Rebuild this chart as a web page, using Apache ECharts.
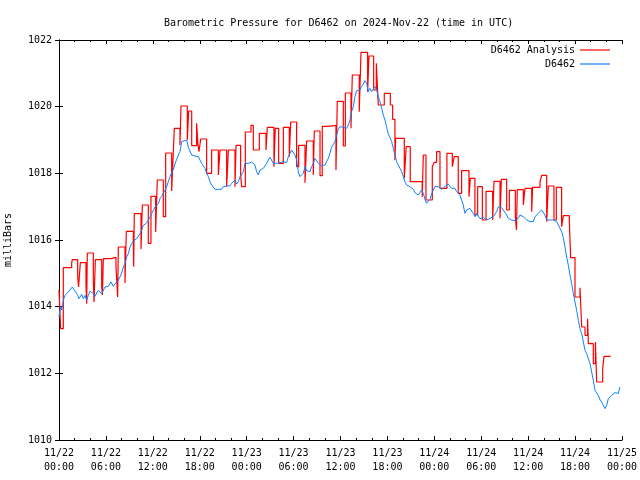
<!DOCTYPE html>
<html>
<head>
<meta charset="utf-8">
<script src="https://cdn.jsdelivr.net/npm/echarts@6/dist/echarts.min.js"></script>
<style>html,body{margin:0;padding:0;background:#fff}#c{width:640px;height:480px}</style>
</head>
<body>
<div id="c"></div>
<script>
// x values are hours after 2024-11-22 00:00 UTC
var titleText = "Barometric Pressure for D6462 on 2024-Nov-22 (time in UTC)";
var yAxisName = "milliBars";
var seriesNames = ["D6462 Analysis", "D6462"];
var xTickLabels = ["11/22\n00:00","11/22\n06:00","11/22\n12:00","11/22\n18:00",
                   "11/23\n00:00","11/23\n06:00","11/23\n12:00","11/23\n18:00",
                   "11/24\n00:00","11/24\n06:00","11/24\n12:00","11/24\n18:00","11/25\n00:00"];

// Analysis (stepped) : [hour, mb]
var analysisPts = [
[0,1014.51],[0.21,1013.34],[0.55,1015.17],[1.62,1015.31],[1.70,1015.41],[2.39,1014.9],[2.5,1014.59],[2.6,1014.9],
[2.73,1015.32],[3.45,1014.69],[3.54,1014.09],[3.62,1015.61],[4.39,1014.79],[4.48,1014.14],[4.65,1015.41],
[5.46,1014.6],[5.55,1014.35],[5.67,1015.44],[6.65,1015.48],[7.29,1015.2],[7.5,1014.29],[7.59,1015.79],
[8.44,1014.71],[8.61,1016.26],[9.51,1015.8],[9.55,1015.2],[9.63,1016.79],[10.49,1015.73],[10.66,1017.05],
[11.42,1015.9],[11.76,1017.31],[12.36,1016.24],[12.57,1017.8],[13.34,1016.7],[13.64,1018.61],[14.41,1017.47],
[14.5,1018.0],[14.75,1019.35],[15.47,1018.85],[15.6,1020.02],[16.41,1019.0],[16.58,1019.87],[16.97,1018.83],
[17.6,1019.5],[17.75,1018.9],[17.9,1018.65],[18.12,1019.03],[18.88,1018.0],[19.52,1018.7],[20.38,1017.95],
[20.59,1018.7],[21.44,1017.6],[21.66,1018.7],[22.51,1017.6],[22.64,1018.84],[23.23,1017.95],[23.36,1017.6],
[23.83,1019.24],[24.55,1019.44],[24.85,1018.7],[25.62,1019.2],[26.47,1018.7],[26.64,1019.38],[27.49,1018.2],
[27.66,1019.35],[28.09,1018.3],[28.69,1019.38],[29.45,1018.5],[29.63,1019.54],[30.39,1018.2],[30.65,1018.84],
[31.46,1017.72],[31.67,1018.97],[32.52,1017.95],[32.65,1019.27],[33.38,1017.93],[33.67,1019.41],[34.44,1019.44],
[35.42,1018.1],[35.59,1020.16],[36.36,1018.82],[36.62,1020.41],[37.34,1019.35],[37.51,1020.95],[38.4,1019.85],
[38.62,1021.63],[39.47,1020.45],[39.64,1021.52],[40.24,1020.5],[40.58,1021.3],[40.83,1020.05],[41.6,1020.4],
[42.37,1020.05],[42.67,1019.62],[42.96,1018.4],[43.05,1019.05],[44.16,1017.85],[44.4,1018.8],[44.92,1017.75],
[46.45,1017.3],[46.59,1018.55],[46.93,1017.2],[47.74,1018.2],[47.99,1018.33],[48.29,1018.65],[48.72,1017.55],
[49.61,1018.6],[50.3,1018.2],[50.55,1018.5],[51.06,1017.4],[51.49,1018.08],[52.43,1017.3],[52.6,1017.85],
[53.19,1016.75],[53.54,1017.6],[54.14,1016.6],[54.61,1017.46],[55.46,1016.6],[55.63,1017.76],[56.4,1016.65],
[56.57,1017.82],[57.25,1016.9],[57.59,1017.49],[58.36,1016.7],[58.5,1016.3],[58.61,1017.51],[59.38,1017.05],
[59.59,1017.55],[60.45,1016.85],[60.57,1017.58],[61.51,1017.74],[61.73,1017.94],[62.37,1016.55],[62.58,1017.62],
[63.3,1016.6],[63.6,1017.58],[64.28,1016.4],[64.5,1016.73],[65.26,1016.6],[65.43,1015.47],[65.99,1014.29],
[66.63,1014.57],[66.84,1013.39],[67.27,1013.14],[67.6,1013.64],[67.7,1012.89],[68.33,1012.29],[68.6,1012.94],
[68.76,1011.74],[69.53,1012.14],[69.7,1012.51],[70.55,1012.51]
];

// Observations : [hour, mb]
var obsPts = [
[0,1013.69],[0.13,1013.9],[0.26,1014.0],[0.34,1013.9],[0.55,1014.19],[0.77,1014.34],[0.98,1014.39],[1.19,1014.44],
[1.41,1014.48],[1.71,1014.59],[1.96,1014.59],[2.13,1014.44],[2.39,1014.34],[2.56,1014.24],[2.9,1014.37],[3.11,1014.24],
[3.32,1014.34],[3.54,1014.19],[3.75,1014.34],[3.96,1014.47],[4.39,1014.39],[4.6,1014.31],[4.82,1014.41],[5.03,1014.49],
[5.24,1014.44],[5.46,1014.39],[5.67,1014.44],[5.88,1014.59],[6.31,1014.61],[6.65,1014.74],[6.95,1014.61],[7.16,1014.69],
[7.37,1014.71],[7.59,1014.79],[7.8,1014.89],[8.01,1015.01],[8.23,1015.19],[8.44,1015.29],[8.65,1015.49],[8.87,1015.59],
[9.08,1015.79],[9.29,1015.89],[9.51,1015.97],[9.72,1016.01],[9.93,1016.04],[10.14,1016.09],[10.36,1016.19],[10.57,1016.29],
[10.78,1016.44],[11.0,1016.49],[11.21,1016.51],[11.42,1016.59],[11.64,1016.69],[11.85,1016.79],[12.06,1016.89],[12.28,1016.99],
[12.49,1017.04],[12.7,1017.09],[12.92,1017.24],[13.13,1017.31],[13.34,1017.4],[13.55,1017.5],[13.77,1017.6],[13.98,1017.75],
[14.19,1017.9],[14.41,1018.01],[14.62,1018.11],[14.83,1018.28],[15.05,1018.42],[15.26,1018.55],[15.47,1018.65],[15.69,1018.95],
[15.9,1019.0],[16.33,1019.0],[16.54,1018.78],[16.75,1018.72],[16.97,1018.55],[17.18,1018.58],[17.39,1018.52],[17.6,1018.55],
[17.82,1018.5],[18.03,1018.4],[18.24,1018.3],[18.46,1018.32],[18.67,1018.15],[18.88,1018.0],[19.1,1017.9],[19.31,1017.75],
[19.52,1017.65],[19.74,1017.6],[19.95,1017.52],[20.16,1017.52],[20.38,1017.52],[20.59,1017.52],[20.8,1017.52],[21.01,1017.6],
[21.23,1017.55],[21.44,1017.62],[21.65,1017.64],[21.87,1017.63],[22.08,1017.7],[22.29,1017.75],[22.51,1017.8],[22.72,1017.68],
[22.93,1017.75],[23.15,1017.9],[23.36,1017.95],[23.57,1018.05],[23.78,1018.3],[24.0,1018.3],[24.2,1018.3],[24.42,1018.32],
[24.63,1018.34],[24.85,1018.3],[25.06,1018.25],[25.27,1018.05],[25.49,1017.95],[25.7,1018.1],[25.91,1018.12],[26.13,1018.15],
[26.34,1018.22],[26.56,1018.3],[26.77,1018.4],[26.98,1018.48],[27.2,1018.42],[27.41,1018.3],[27.62,1018.28],[27.84,1018.3],
[28.05,1018.3],[28.26,1018.32],[28.48,1018.28],[28.69,1018.35],[28.9,1018.4],[29.11,1018.32],[29.33,1018.5],[29.54,1018.6],
[29.75,1018.7],[29.97,1018.72],[30.18,1018.55],[30.39,1018.4],[30.6,1018.05],[30.82,1017.9],[31.03,1017.88],[31.24,1018.0],
[31.46,1018.2],[31.67,1018.08],[31.88,1018.05],[32.1,1018.05],[32.31,1018.2],[32.52,1018.3],[32.73,1018.45],[32.95,1018.4],
[33.16,1018.3],[33.37,1018.25],[33.58,1018.22],[33.8,1018.2],[34.01,1018.25],[34.22,1018.3],[34.44,1018.45],[34.65,1018.6],
[34.86,1018.78],[35.08,1018.8],[35.29,1018.95],[35.5,1019.15],[35.72,1019.32],[35.93,1019.4],[36.15,1019.42],[36.36,1019.38],
[36.57,1019.42],[36.79,1019.35],[37.0,1019.45],[37.21,1019.6],[37.42,1019.85],[37.64,1020.0],[37.85,1020.3],[38.06,1020.48],
[38.28,1020.5],[38.49,1020.5],[38.7,1020.6],[38.91,1020.68],[39.13,1020.78],[39.34,1020.7],[39.55,1020.45],[39.77,1020.55],
[39.98,1020.45],[40.19,1020.4],[40.4,1020.6],[40.62,1020.5],[40.83,1020.3],[41.05,1020.15],[41.26,1019.95],[41.47,1019.75],
[41.69,1019.6],[41.9,1019.38],[42.11,1019.18],[42.33,1019.08],[42.54,1018.95],[42.75,1018.75],[42.96,1018.55],[43.18,1018.35],
[43.39,1018.25],[43.6,1018.15],[43.82,1018.05],[44.03,1017.9],[44.24,1017.75],[44.45,1017.65],[44.67,1017.62],[44.88,1017.6],
[45.1,1017.55],[45.31,1017.52],[45.52,1017.42],[45.73,1017.4],[45.95,1017.35],[46.16,1017.35],[46.37,1017.5],[46.59,1017.4],
[46.8,1017.22],[47.01,1017.1],[47.23,1017.15],[47.44,1017.22],[47.65,1017.38],[47.87,1017.5],[48.08,1017.6],[48.29,1017.62],
[48.51,1017.6],[48.72,1017.55],[48.93,1017.52],[49.15,1017.55],[49.36,1017.6],[49.57,1017.6],[49.78,1017.68],[50.0,1017.62],
[50.21,1017.55],[50.42,1017.6],[50.63,1017.55],[50.85,1017.45],[51.06,1017.42],[51.27,1017.35],[51.49,1017.2],[51.7,1017.05],
[51.91,1016.8],[52.13,1016.9],[52.34,1016.95],[52.55,1016.95],[52.77,1017.0],[52.98,1016.8],[53.19,1016.7],[53.41,1016.8],
[53.62,1016.75],[53.83,1016.64],[54.05,1016.64],[54.26,1016.67],[54.48,1016.62],[54.69,1016.6],[54.91,1016.55],[55.12,1016.65],
[55.34,1016.7],[55.55,1016.7],[55.76,1016.75],[55.97,1016.85],[56.19,1017.0],[56.4,1016.95],[56.61,1016.97],[56.82,1016.9],
[57.04,1016.85],[57.25,1016.75],[57.46,1016.65],[57.68,1016.6],[57.89,1016.6],[58.1,1016.55],[58.32,1016.58],[58.53,1016.6],
[58.74,1016.65],[58.95,1016.75],[59.17,1016.7],[59.38,1016.7],[59.59,1016.65],[59.81,1016.6],[60.02,1016.6],[60.23,1016.55],
[60.45,1016.5],[60.66,1016.55],[60.87,1016.7],[61.08,1016.75],[61.3,1016.8],[61.51,1016.85],[61.73,1016.9],[61.94,1016.85],
[62.15,1016.75],[62.37,1016.6],[62.58,1016.55],[62.79,1016.6],[63.0,1016.55],[63.22,1016.6],[63.43,1016.6],[63.64,1016.55],
[63.86,1016.45],[64.07,1016.4],[64.28,1016.25],[64.5,1016.07],[64.71,1015.79],[64.92,1015.49],[65.14,1015.24],[65.35,1014.94],
[65.56,1014.69],[65.78,1014.39],[65.99,1014.14],[66.2,1013.89],[66.42,1013.59],[66.63,1013.34],[66.84,1013.19],[67.06,1012.94],
[67.27,1012.69],[67.48,1012.59],[67.69,1012.54],[67.91,1012.29],[68.12,1012.04],[68.33,1011.79],[68.55,1011.49],[68.76,1011.41],
[68.97,1011.34],[69.19,1011.21],[69.4,1011.14],[69.61,1011.09],[69.82,1010.94],[69.95,1010.89],[70.04,1011.04],[70.25,1011.24],
[70.46,1011.29],[70.68,1011.34],[70.89,1011.39],[71.1,1011.42],[71.31,1011.44],[71.53,1011.4],[71.74,1011.59]
];

var FONT = "'DejaVu Sans Mono', 'Liberation Mono', monospace";
var FS = 10;
var chart = echarts.init(document.getElementById('c'), null, {renderer: 'canvas'});
var axLine = {show: true, lineStyle: {color: '#000', width: 1}};
chart.setOption({
  animation: false,
  backgroundColor: '#fff',
  title: {text: titleText, left: 159, top: 13,
    textStyle: {fontFamily: FONT, fontSize: FS, fontWeight: 'normal', color: '#000'}},
  legend: {
    data: seriesNames, orient: 'vertical', right: 30, top: 45, align: 'right', padding: 0,
    icon: 'rect', itemWidth: 30, itemHeight: 1.2, itemGap: 4,
    textStyle: {fontFamily: FONT, fontSize: FS, color: '#000', padding: [0, 0, 0, 0]}
  },
  grid: {left: 59, right: 18, top: 40, bottom: 40, show: false, containLabel: false, outerBoundsMode: 'none'},
  xAxis: [{
    type: 'value', min: 0, max: 72, interval: 6, position: 'bottom',
    axisLine: axLine, splitLine: {show: false},
    axisTick: {show: true, inside: true, length: 4, lineStyle: {color: '#000'}},
    minorTick: {show: true, splitNumber: 3, length: 2, lineStyle: {color: '#000'}},
    axisLabel: {fontFamily: FONT, fontSize: FS, color: '#000', margin: 6, lineHeight: 14,
      formatter: function (v) { return xTickLabels[Math.round(v / 6)]; }}
  }, {
    type: 'value', min: 0, max: 72, interval: 6, position: 'top',
    axisLine: axLine, splitLine: {show: false},
    axisTick: {show: true, inside: true, length: 4, lineStyle: {color: '#000'}},
    minorTick: {show: true, splitNumber: 3, length: 2, lineStyle: {color: '#000'}},
    axisLabel: {show: false}
  }],
  yAxis: [{
    type: 'value', min: 1010, max: 1022, interval: 2, position: 'left',
    name: yAxisName, nameLocation: 'middle', nameRotate: 90, nameGap: 46,
    nameTextStyle: {fontFamily: FONT, fontSize: FS, color: '#000'},
    axisLine: axLine, splitLine: {show: false},
    axisTick: {show: true, inside: true, length: 4, lineStyle: {color: '#000'}},
    axisLabel: {fontFamily: FONT, fontSize: FS, color: '#000', margin: 7,
      formatter: function (v) { return String(v); }}
  }, {
    type: 'value', min: 1010, max: 1022, interval: 2, position: 'right',
    axisLine: axLine, splitLine: {show: false},
    axisTick: {show: true, inside: true, length: 4, lineStyle: {color: '#000'}},
    axisLabel: {show: false}
  }],
  series: [{
    name: seriesNames[0], type: 'line', step: 'end', data: analysisPts,
    xAxisIndex: 0, yAxisIndex: 0, symbol: 'none',
    lineStyle: {color: '#ff0000', width: 1.2}, itemStyle: {color: '#ff0000'}
  }, {
    name: seriesNames[1], type: 'line', data: obsPts,
    xAxisIndex: 0, yAxisIndex: 0, symbol: 'none',
    lineStyle: {color: '#0f80ff', width: 1}, itemStyle: {color: '#0f80ff'}
  }]
});
</script>
</body>
</html>
